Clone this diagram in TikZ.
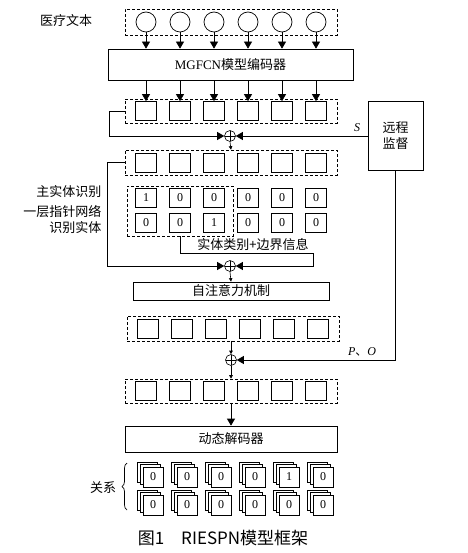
\documentclass[tikz,border=0pt]{standalone}
\usepackage{fontspec}
\setmainfont{Liberation Serif}
\newfontfamily\cjk{Noto Sans CJK SC}
\usetikzlibrary{arrows.meta,decorations.pathreplacing,calc}
\tikzset{
 dbox/.style={draw, dash pattern=on 3pt off 2pt, line width=0.6pt, inner sep=0pt},
 sq/.style={draw, line width=0.7pt, minimum width=21pt, minimum height=19pt, inner sep=0pt, fill=white},
 rs/.style={draw, line width=0.7pt, minimum width=20pt, minimum height=20pt, inner sep=0pt, fill=white},
 circ/.style={draw, circle, minimum size=20pt, inner sep=0pt, line width=0.7pt},
 bigbox/.style={draw, line width=0.7pt, inner sep=0pt},
 arr/.style={-{Triangle[width=8pt,length=7pt]}, line width=0.7pt},
 sarr/.style={-{Triangle[width=3.5pt,length=3.5pt]}, line width=0.6pt},
 ln/.style={line width=0.7pt},
 opl/.style={draw, circle, minimum size=11pt, inner sep=0pt, line width=0.6pt,
   path picture={\draw[line width=0.6pt] (path picture bounding box.north) -- (path picture bounding box.south)
     (path picture bounding box.west) -- (path picture bounding box.east);}},
 txt/.style={font=\fontsize{13}{16}\selectfont\cjk},
 num/.style={font=\fontsize{12}{14}\selectfont},
}
\begin{document}
\begin{tikzpicture}[x=1pt,y=-1pt]
\useasboundingbox (0,0) rectangle (467,553);
% top row
\node[txt] (lbl) at (66,21) {医疗文本};
\node[dbox, minimum width=212pt, minimum height=26pt] (b1) at (231,22) {};
\node[bigbox, minimum width=245pt, minimum height=31pt, font=\fontsize{13}{16}\selectfont] (enc) at (230.5,64.5) {MGFCN{\cjk 模型编码器}};
\node[dbox, minimum width=212pt, minimum height=24pt] (b2) at (231,111) {};
\foreach \i in {0,...,5}{
  \node[circ] (c\i) at (146+34*\i,22) {};
  \node[sq] (s2\i) at (146+34*\i,111) {};
  \draw[arr] (c\i.south) -- (c\i.south |- enc.north);
  \draw[arr] (s2\i.north |- enc.south) -- (s2\i.north);
}
% remote
\node[bigbox, minimum width=55pt, minimum height=69pt, align=center, txt] (rem) at (395.5,135.5) {远程\\监督};
\node[opl] (o1) at (230,136) {};
\draw[arr] (b2.west) -- ++(-15,0) |- (o1.west);
\draw[arr] (rem.west |- o1) -- (o1.east);
\node[font=\fontsize{12}{14}\selectfont\itshape] (S) at (357,128) {S};
% box 3
\node[dbox, minimum width=212pt, minimum height=25pt] (b3) at (231,162.5) {};
\foreach \i in {0,...,5}{\node[sq] (s3\i) at (146+34*\i,162.5) {};}
\draw[sarr] (o1.south) -- (b3.north);
% matrix
\node[dbox, minimum width=106pt, minimum height=50pt] (mb) at (180,211) {};
\foreach \v [count=\i from 0] in {1,0,0,0,0,0}{\node[sq,num] (m1\i) at (146+34*\i,198) {\v};}
\foreach \v [count=\i from 0] in {0,0,1,0,0,0}{\node[sq,num] (m2\i) at (146+34*\i,223) {\v};}
\node[txt, anchor=east] (l1) at (105,192) {主实体识别};
\node[txt, anchor=east] (l2) at (105,212) {一层指针网络};
\node[txt, anchor=east] (l3) at (105,228) {识别实体};
\node[opl] (o2) at (230,266) {};
\coordinate (k) at (313,266);
\draw[arr] (b3.west) -- ++(-17,0) |- (o2.west);
\draw[arr] (mb.south) -- ++(0,17) -| (k) -- (o2.east);
\node[txt] (ent) at (253,245) {实体类别+边界信息};
\node[bigbox, minimum width=196pt, minimum height=18pt, txt] (sa) at (231,291) {自注意力机制};
\draw[sarr] (o2.south) -- (sa.north);
% box 4
\node[dbox, minimum width=212pt, minimum height=25pt] (b4) at (233,328.5) {};
\foreach \i in {0,...,5}{\node[sq] (s4\i) at (148+34*\i,328.5) {};}
\node[opl] (o3) at (231,360) {};
\draw[sarr] (o3 |- b4.south) -- (o3.north);
\draw[arr] (rem.south) |- (o3.east);
\node[font=\fontsize{12}{14}\selectfont] (PO) at (362,352) {\textit{P}{\cjk 、}\textit{O}};
% box 5
\node[dbox, minimum width=212pt, minimum height=24pt] (b5) at (231,391) {};
\foreach \i in {0,...,5}{\node[sq] (s5\i) at (146+34*\i,391) {};}
\draw[sarr] (o3.south) -- (b5.north);
\node[bigbox, minimum width=212pt, minimum height=26pt, txt] (dec) at (231,439) {动态解码器};
\draw[arr] (b5.south) -- (dec.north);
% relations
\foreach \v [count=\i from 0] in {0,0,0,0,1,0}{
  \node[rs] at (153+34*\i-6,477-5) {};
  \node[rs] at (153+34*\i-3,477-2.5) {};
  \node[rs,num] (r1\i) at (153+34*\i,477) {\v};
}
\foreach \v [count=\i from 0] in {0,0,0,0,0,0}{
  \node[rs] at (153+34*\i-6,505-5) {};
  \node[rs] at (153+34*\i-3,505-2.5) {};
  \node[rs,num] (r2\i) at (153+34*\i,505) {\v};
}
\draw[ln, decorate, decoration={brace, amplitude=5pt}] (127,510) -- (127,463);
\node[txt] (rel) at (103,488) {关系};
% caption
\node[font=\fontsize{17}{20}\selectfont\cjk] (cap) at (223,538) {图1\quad RIESPN模型框架};
\end{tikzpicture}
\end{document}
